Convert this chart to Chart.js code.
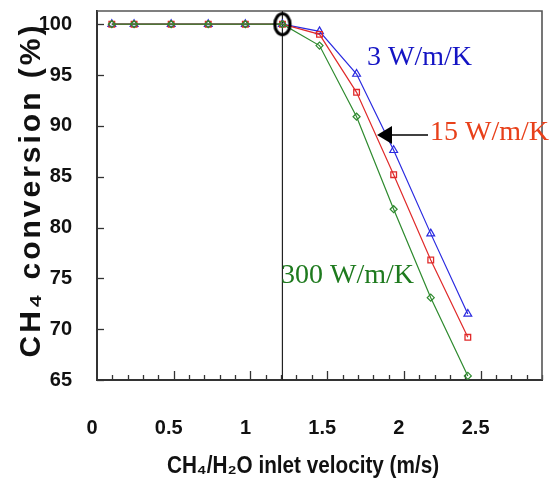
<!DOCTYPE html>
<html>
<head>
<meta charset="utf-8">
<script src="https://cdn.jsdelivr.net/npm/chart.js@4.4.0/dist/chart.umd.min.js"></script>
<style>
  html, body { margin: 0; padding: 0; background: #fff; }
  #wrap { width: 549px; height: 482px; }
</style>
</head>
<body>
<div id="wrap"><canvas id="convChart"></canvas></div>
<script>
// CH4/H2O inlet velocity (m/s)
const velocity = [0.1, 0.25, 0.5, 0.75, 1.0, 1.25, 1.5, 1.75, 2.0, 2.25, 2.5];
// CH4 conversion (%) per wall conductivity
const conv3 = [100, 100, 100, 100, 100, 100, 99.3, 95.1, 87.6, 79.4, 71.5];
const conv15 = [100, 100, 100, 100, 100, 100, 99.0, 93.3, 85.2, 76.8, 69.2];
const conv300 = [100, 100, 100, 100, 100, 100, 97.9, 90.9, 81.8, 73.1, 65.4];
// circled point + vertical marker line
const markerX = 1.25;
const markerY = 100;
// axis ticks
const xTickLabels = [0, 0.5, 1, 1.5, 2, 2.5];
const yTickLabels = [65, 70, 75, 80, 85, 90, 95, 100];
const yMin = 65, yMax = 101.3;

const BLUE = '#2a2ae0';
const RED = '#e02a2a';
const GREEN = '#2e8a2e';

function pts(ys) {
  return velocity.map((x, i) => ({ x: x, y: ys[i] }));
}

// ellipse marker for the circled point
const ring = document.createElement('canvas');
ring.width = 22; ring.height = 28;
(function () {
  const c = ring.getContext('2d');
  c.strokeStyle = '#000';
  c.lineWidth = 3.2;
  c.beginPath();
  c.ellipse(11, 14, 7.6, 10.5, 0, 0, Math.PI * 2);
  c.stroke();
})();

// frame, inward tick marks, titles and labels
const decor = {
  id: 'decor',
  beforeDatasetsDraw(chart) {
    const ctx = chart.ctx;
    const a = chart.chartArea;
    const xs = chart.scales.x2;
    const ys = chart.scales.y;
    ctx.save();
    ctx.strokeStyle = '#333';
    ctx.lineWidth = 1.3;
    // minor/major ticks on the bottom axis
    for (let i = 1; i <= 29; i++) {
      const px = Math.round(xs.getPixelForValue(i / 10)) + 0.5;
      const len = i % 5 === 0 ? 9 : 5;
      ctx.beginPath();
      ctx.moveTo(px, a.bottom);
      ctx.lineTo(px, a.bottom - len);
      ctx.stroke();
    }
    yTickLabels.forEach(v => {
      const py = Math.round(ys.getPixelForValue(v)) + 0.5;
      ctx.beginPath();
      ctx.moveTo(a.left, py);
      ctx.lineTo(a.left + 7, py);
      ctx.stroke();
    });
    // top and right border
    ctx.strokeStyle = '#555';
    ctx.lineWidth = 1.6;
    ctx.beginPath();
    ctx.moveTo(a.left, a.top);
    ctx.lineTo(a.right, a.top);
    ctx.lineTo(a.right, a.bottom);
    ctx.stroke();
    ctx.restore();
  },
  afterDraw(chart) {
    const ctx = chart.ctx;
    ctx.save();
    ctx.fillStyle = '#111';
    // y title
    ctx.font = 'bold 30px "Liberation Sans", Arial, sans-serif';
    ctx.letterSpacing = '3px';
    ctx.textAlign = 'center';
    ctx.textBaseline = 'middle';
    ctx.save();
    ctx.translate(32, 190);
    ctx.rotate(-Math.PI / 2);
    ctx.fillText('CH\u2084 conversion (%)', 0, 0);
    ctx.restore();
    // x title
    ctx.font = 'bold 23px "Liberation Sans", Arial, sans-serif';
    ctx.letterSpacing = '0px';
    ctx.save();
    ctx.translate(303, 467);
    ctx.scale(0.9, 1);
    ctx.fillText('CH\u2084/H\u2082O inlet velocity (m/s)', 0, 0);
    ctx.restore();

    // series labels
    ctx.font = '28px "Liberation Serif", "Times New Roman", serif';
    ctx.textAlign = 'left';
    ctx.fillStyle = '#1414c4';
    ctx.fillText('3 W/m/K', 367, 58);
    ctx.fillStyle = '#e8401a';
    ctx.fillText('15 W/m/K', 430, 133);
    ctx.fillStyle = '#1e7a1e';
    ctx.fillText('300 W/m/K', 281, 276);

    // arrow pointing at the 15 W/m/K curve
    ctx.strokeStyle = '#000';
    ctx.fillStyle = '#000';
    ctx.lineWidth = 1.5;
    ctx.beginPath();
    ctx.moveTo(428, 135);
    ctx.lineTo(390, 135);
    ctx.stroke();
    ctx.beginPath();
    ctx.moveTo(377, 135);
    ctx.lineTo(392, 126);
    ctx.lineTo(392, 144);
    ctx.closePath();
    ctx.fill();
    ctx.restore();
  }
};

const ctx = document.getElementById('convChart');
new Chart(ctx, {
  type: 'scatter',
  data: {
    datasets: [
      {
        label: '300 W/m/K',
        data: pts(conv300),
        showLine: true,
        borderColor: GREEN,
        borderWidth: 1.2,
        pointStyle: 'rectRot',
        pointRadius: 3.5,
        pointBorderColor: GREEN,
        pointBackgroundColor: 'rgba(255,255,255,0)',
        pointBorderWidth: 1.2,
        order: 1
      },
      {
        label: '15 W/m/K',
        data: pts(conv15),
        showLine: true,
        borderColor: RED,
        borderWidth: 1.2,
        pointStyle: 'rect',
        pointRadius: 4,
        pointBorderColor: RED,
        pointBackgroundColor: 'rgba(255,255,255,0)',
        pointBorderWidth: 1.3,
        order: 2
      },
      {
        label: '3 W/m/K',
        data: pts(conv3),
        showLine: true,
        borderColor: BLUE,
        borderWidth: 1.2,
        pointStyle: 'triangle',
        pointRadius: 4.5,
        pointBorderColor: BLUE,
        pointBackgroundColor: 'rgba(255,255,255,0)',
        pointBorderWidth: 1.2,
        order: 3
      },
      {
        label: 'marker line',
        data: [{ x: markerX, y: yMin }, { x: markerX, y: yMax }],
        showLine: true,
        borderColor: '#222',
        borderWidth: 1.2,
        pointRadius: 0,
        order: 5
      },
      {
        label: 'marker',
        data: [{ x: markerX, y: markerY }],
        pointStyle: ring,
        pointRadius: 10,
        order: 0
      }
    ]
  },
  options: {
    responsive: true,
    maintainAspectRatio: false,
    animation: false,
    layout: { autoPadding: false, padding: { left: 0, top: 11, right: 7, bottom: 0 } },
    plugins: {
      legend: { display: false },
      tooltip: { enabled: false }
    },
    scales: {
      x: {
        type: 'linear',
        display: false,
        min: 0,
        max: 3
      },
      x2: {
        type: 'linear',
        position: 'bottom',
        min: 0,
        max: 2.9,
        afterBuildTicks: s => { s.ticks = xTickLabels.map(v => ({ value: v })); },
        afterFit: s => { s.height = 102; s.paddingLeft = 0; s.paddingRight = 0; },
        grid: { display: false, drawTicks: false },
        border: { color: '#333', width: 2 },
        ticks: {
          padding: 36,
          labelOffset: -5,
          color: '#111',
          callback: v => String(v),
          font: { family: '"Liberation Sans", Arial, sans-serif', size: 20, weight: 'bold' }
        }
      },
      y: {
        type: 'linear',
        min: yMin,
        max: yMax,
        afterBuildTicks: s => { s.ticks = yTickLabels.map(v => ({ value: v })); },
        afterFit: s => { s.width = 97; s.paddingTop = 0; s.paddingBottom = 0; },
        grid: { display: false, drawTicks: false },
        border: { color: '#333', width: 2 },
        ticks: {
          padding: 25,
          color: '#111',
          callback: v => String(v),
          font: { family: '"Liberation Sans", Arial, sans-serif', size: 20, weight: 'bold' }
        }
      }
    }
  },
  plugins: [decor]
});
</script>
</body>
</html>
